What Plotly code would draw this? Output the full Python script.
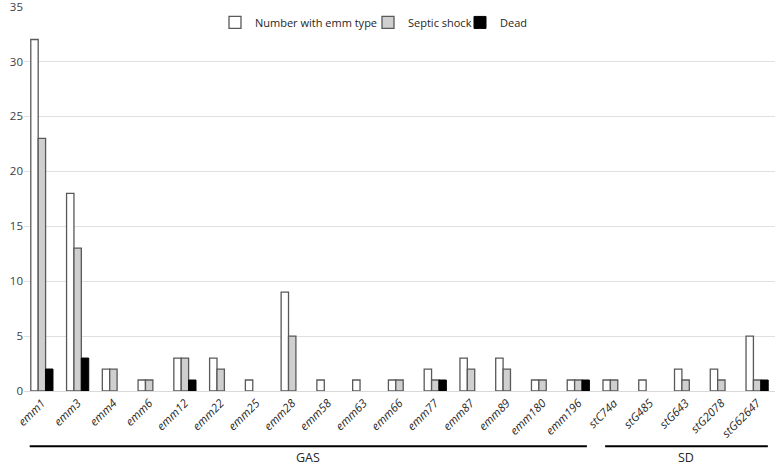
import plotly.graph_objects as go

types = ['emm1', 'emm3', 'emm4', 'emm6', 'emm12', 'emm22', 'emm25', 'emm28', 'emm58', 'emm63',
         'emm66', 'emm77', 'emm87', 'emm89', 'emm180', 'emm196',
         'stC74a', 'stG485', 'stG643', 'stG2078', 'stG62647']
number = [32, 18, 2, 1, 3, 3, 1, 9, 1, 1, 1, 2, 3, 3, 1, 1, 1, 1, 2, 2, 5]
septic = [23, 13, 2, 1, 3, 2, 0, 5, 0, 0, 1, 1, 2, 2, 1, 1, 1, 0, 1, 1, 1]
dead = [2, 3, 0, 0, 1, 0, 0, 0, 0, 0, 0, 1, 0, 0, 0, 1, 0, 0, 0, 0, 1]

tick_text = ['<i>%s</i>' % t for t in types]
x = list(range(len(types)))


def no_zero(vals):
    # zero counts are simply not drawn in the original
    return [v if v else None for v in vals]


W, H = 775, 467
L, T, B = 24, 6, 76
plot_w = W - L


def leg_x(px):
    # window pixel -> paper fraction
    return (px - L) / plot_w


fig = go.Figure()
fig.add_trace(go.Bar(x=x, y=no_zero(number), name='Number with emm type', legend='legend',
                     marker=dict(color='white', line=dict(color='#595959', width=1.3))))
fig.add_trace(go.Bar(x=x, y=no_zero(septic), name='Septic shock', legend='legend2',
                     marker=dict(color='#cfcfcf', line=dict(color='#595959', width=1.3))))
fig.add_trace(go.Bar(x=x, y=no_zero(dead), name='Dead', legend='legend3',
                     marker=dict(color='black', line=dict(color='black', width=1))))

# group brackets under the tick labels
for x0, x1, label in [(-0.34, 15.24, 'GAS'), (15.75, 20.3, 'SD')]:
    fig.add_shape(type='line', xref='x', yref='paper', x0=x0, x1=x1, y0=-0.1436, y1=-0.1436,
                  line=dict(color='black', width=2))
    fig.add_annotation(x=(x0 + x1) / 2, y=-0.172, xref='x', yref='paper', text=label,
                       showarrow=False, yanchor='middle', font=dict(size=12.5, color='#262626'))

leg_common = dict(orientation='h', y=0.995, xanchor='left', yanchor='top', itemwidth=30,
                  font=dict(size=11, color='#262626'), bgcolor='rgba(0,0,0,0)')

fig.update_layout(
    width=W, height=H,
    margin=dict(l=L, r=0, t=T, b=B, autoexpand=False),
    plot_bgcolor='white', paper_bgcolor='white',
    font=dict(family='Open Sans', size=11, color='#404040'),
    barmode='group', bargap=0.38, bargroupgap=0.0,
    showlegend=True,
    legend=dict(x=leg_x(215), **leg_common),
    legend2=dict(x=leg_x(368), **leg_common),
    legend3=dict(x=leg_x(460), **leg_common),
)
fig.update_xaxes(tickmode='array', tickvals=x, ticktext=tick_text, tickangle=-45,
                 range=[-0.5, len(types) - 0.5], showline=True, linecolor='#d9d9d9',
                 automargin=False, tickfont=dict(size=11.5, color='#262626'))
fig.update_yaxes(range=[0, 35.05], dtick=5, showgrid=True, gridcolor='#e0e0e0',
                 zeroline=False, automargin=False, ticklen=0, ticklabeloverflow='allow',
                 tickfont=dict(size=11.5, color='#404040'))

# drop the browser's default 8px body margin so the figure fills the window
fig.write_html("out.html", config={'displayModeBar': False},
               post_script="document.body.style.margin='0px';")
